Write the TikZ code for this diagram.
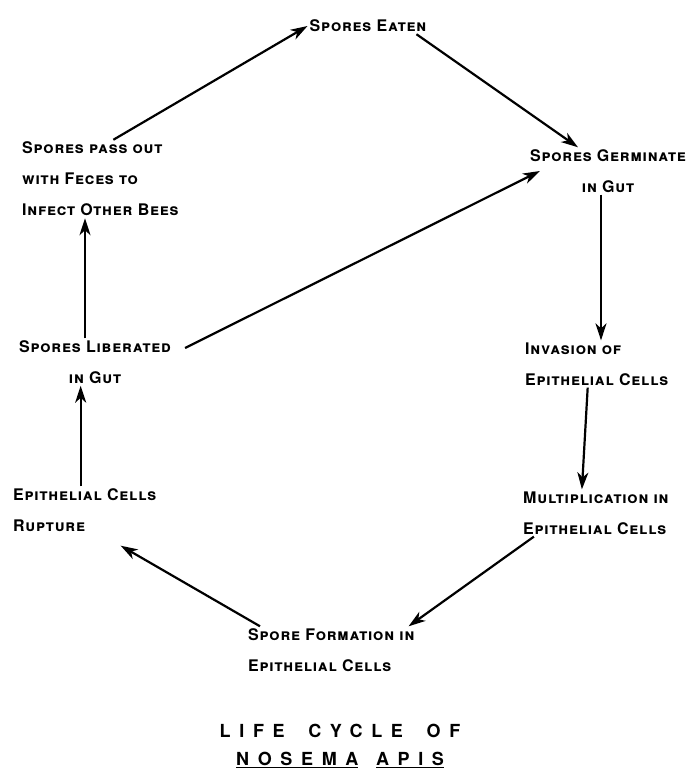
\documentclass[tikz,border=0pt]{standalone}
\usepackage{fontspec}
\setmainfont{TeX Gyre Heros}[LetterSpace=5]
\newfontfamily\ttlfont[LetterSpace=48]{TeX Gyre Heros}
\usetikzlibrary{arrows.meta,positioning,calc}
\tikzset{
  lbl/.style ={font=\fontsize{16}{31}\selectfont\bfseries\scshape,inner sep=2pt},
  lbll/.style={lbl,align=left,anchor=west},
  lblc/.style={lbl,align=center},
  sig/.style ={-{Stealth[length=17pt,width=11pt,inset=5pt]},line width=2.2pt},
}

\begin{document}
\begin{tikzpicture}[x=1pt, y=-1pt,
  ttl/.style={font=\ttlfont\fontsize{18}{28}\selectfont\bfseries,align=center},
]
\useasboundingbox (0,0) rectangle (690,776);

% stages of the cycle
\node[lblc] (eaten)   at (368,26)  {Spores Eaten};
\node[lblc] (germ)    at (608,171) {Spores Germinate\\in Gut};
\node[lbll] (invade)  at (523,364) {Invasion of\\Epithelial Cells};
\node[lbll] (multi)   at (521,513) {Multiplication in\\Epithelial Cells};
\node[lbll] (form)    at (246,650) {Spore Formation in\\Epithelial Cells};
\node[lbll] (rupt)    at (11,510)  {Epithelial Cells\\Rupture};
\node[lblc] (liber)   at (95,362)  {Spores Liberated\\in Gut};
\node[lbll] (passout) at (20,179)  {Spores pass out\\with Feces to\\Infect Other Bees};

\node[ttl] (title) at (340,746)
  {LIFE\hspace{10pt} CYCLE\hspace{10pt} OF\\\underline{NOSEMA}\hspace{4pt} \underline{APIS}};

% arrows round the cycle
\draw[sig] ([xshift=13pt]passout.north) -- (eaten.west);
\draw[sig] ([xshift=-12pt]eaten.south east) -- ([xshift=-30pt]germ.north);
\draw[sig] ([xshift=-7pt]germ.south) -- ([xshift=-7pt]germ.south |- invade.north);
\draw[sig] ([xshift=-9pt]invade.south) -- ([xshift=-14pt]multi.north);
\draw[sig] ([xshift=-62pt]multi.south) -- ([xshift=-8pt]form.north east);
\draw[sig] ([xshift=14pt]form.north west) -- ([xshift=36pt,yshift=-12pt]rupt.south);
\draw[sig] ([xshift=-4pt]rupt.north) -- ([xshift=-4pt]rupt.north |- liber.south);
\draw[sig] ([xshift=-10pt]liber.north) -- ([xshift=-10pt]liber.north |- passout.south);
\draw[sig] ([xshift=12pt,yshift=14pt]liber.east) -- ([xshift=12pt]germ.west);
\end{tikzpicture}
\end{document}
